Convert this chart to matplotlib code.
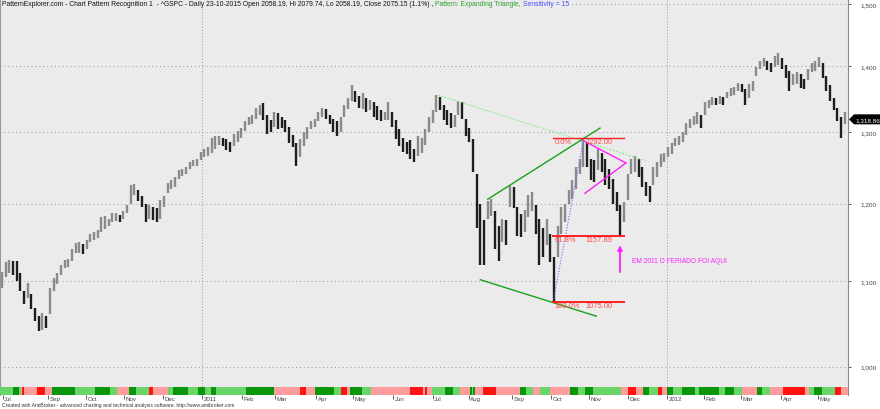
import numpy as np
import matplotlib.pyplot as plt
import matplotlib.transforms as mtransforms
from matplotlib.patches import Polygon
from matplotlib.ticker import NullLocator

plt.rcParams['font.family'] = ['Liberation Sans', 'DejaVu Sans']

# ^GSPC daily, Jul 2010 - May 2012, one sample per two trading days (high, low)
highs = [1112, 1124, 1127, 1126, 1125, 1110, 1088, 1098, 1084, 1068,
         1058, 1062, 1058, 1092, 1104, 1110, 1120, 1127, 1128, 1140,
         1148, 1150, 1147, 1152, 1160, 1163, 1165, 1182, 1184, 1180,
         1188, 1187, 1185, 1190, 1198, 1225, 1227, 1218, 1210, 1200,
         1198, 1196, 1194, 1205, 1210, 1228, 1232, 1236, 1246, 1248,
         1250, 1258, 1260, 1261, 1272, 1276, 1278, 1292, 1294, 1294,
         1292, 1290, 1286, 1298, 1302, 1306, 1316, 1322, 1326, 1336,
         1340, 1343, 1326, 1318, 1330, 1328, 1322, 1318, 1308, 1296,
         1284, 1290, 1300, 1308, 1316, 1320, 1330, 1336, 1334, 1326,
         1320, 1316, 1322, 1340, 1350, 1370, 1362, 1354, 1358, 1350,
         1348, 1344, 1338, 1332, 1330, 1345, 1330, 1318, 1304, 1292,
         1286, 1288, 1276, 1294, 1292, 1305, 1322, 1332, 1356, 1352,
         1340, 1332, 1328, 1326, 1346, 1344, 1320, 1306, 1290, 1240,
         1200, 1178, 1204, 1206, 1190, 1170, 1180, 1178, 1224, 1222,
         1196, 1186, 1192, 1212, 1216, 1198, 1180, 1168, 1180, 1160,
         1130, 1170, 1196, 1200, 1218, 1232, 1250, 1262, 1292, 1286,
         1262, 1260, 1276, 1270, 1262, 1248, 1234, 1216, 1198, 1202,
         1240, 1262, 1266, 1262, 1250, 1230, 1224, 1250, 1258, 1268,
         1270, 1278, 1284, 1292, 1294, 1300, 1314, 1320, 1324, 1330,
         1326, 1344, 1348, 1352, 1350, 1354, 1352, 1360, 1366, 1368,
         1374, 1372, 1364, 1372, 1376, 1398, 1408, 1412, 1408, 1405,
         1416, 1420, 1412, 1402, 1392, 1388, 1390, 1388, 1380, 1396,
         1404, 1408, 1414, 1404, 1384, 1370, 1350, 1336, 1322, 1330]
lows = [1092, 1105, 1110, 1108, 1100, 1088, 1072, 1080, 1066, 1052,
        1040, 1042, 1044, 1060, 1088, 1097, 1108, 1116, 1118, 1126,
        1135, 1136, 1134, 1140, 1150, 1152, 1155, 1162, 1166, 1170,
        1176, 1177, 1176, 1180, 1188, 1200, 1212, 1204, 1196, 1176,
        1180, 1178, 1176, 1180, 1196, 1215, 1220, 1222, 1234, 1238,
        1240, 1248, 1252, 1252, 1260, 1265, 1266, 1270, 1276, 1282,
        1280, 1274, 1272, 1280, 1286, 1292, 1302, 1310, 1312, 1320,
        1326, 1318, 1298, 1300, 1308, 1304, 1306, 1300, 1284, 1278,
        1252, 1264, 1280, 1290, 1304, 1308, 1316, 1322, 1320, 1312,
        1300, 1294, 1300, 1322, 1334, 1346, 1344, 1336, 1334, 1330,
        1332, 1322, 1318, 1316, 1318, 1318, 1308, 1290, 1280, 1272,
        1268, 1262, 1258, 1266, 1270, 1282, 1300, 1314, 1330, 1332,
        1318, 1310, 1306, 1308, 1326, 1320, 1294, 1286, 1244, 1168,
        1120, 1120, 1180, 1184, 1140, 1126, 1150, 1146, 1196, 1194,
        1158, 1156, 1162, 1182, 1190, 1160, 1120, 1130, 1146, 1124,
        1075, 1130, 1160, 1176, 1200, 1206, 1220, 1240, 1250, 1250,
        1232, 1230, 1246, 1244, 1226, 1220, 1200, 1190, 1158, 1176,
        1205, 1240, 1244, 1236, 1222, 1210, 1202, 1226, 1236, 1250,
        1258, 1264, 1268, 1280, 1282, 1286, 1296, 1306, 1310, 1312,
        1306, 1326, 1336, 1340, 1340, 1342, 1340, 1350, 1354, 1356,
        1362, 1360, 1340, 1350, 1362, 1384, 1396, 1400, 1394, 1390,
        1398, 1402, 1396, 1382, 1362, 1370, 1372, 1366, 1364, 1378,
        1390, 1392, 1398, 1382, 1362, 1346, 1332, 1316, 1292, 1312]
last_close = 1318.86

month_pos = [0.5, 25, 45.7, 66.3, 87.5, 108.7, 130.4, 148.4, 170.7, 190.8, 212.5,
             234.2, 253.8, 277.2, 298.4, 319, 340.2, 361.4, 381.5, 401.6, 423.4, 443.5]
month_lbl = ['Jul', 'Sep', 'Oct', 'Nov', 'Dec', '2011', 'Feb', 'Mar', 'Apr', 'May', 'Jun',
             'Jul', 'Aug', 'Sep', 'Oct', 'Nov', 'Dec', '2012', 'Feb', 'Mar', 'Apr', 'May']
year_pos = [108.7, 361.4]
price_ticks = [1000, 1100, 1200, 1300, 1400, 1500]

# pattern points (bar index, price)
tri_upper = ([264, 325], [1206, 1306])
tri_lower = ([260, 323], [1102, 1058])
resist = ([237, 351], [1355, 1258])
swing = ([299.5, 316.3], [1075, 1292])
pennant_up = ([315.8, 339.1], [1288, 1256])
pennant_lo = ([316.8, 339.1], [1214, 1256])
fib_levels = [1292.00, 1157.89, 1075.00]
fib_names = ['0.0%', '61.8%', '100.0%']
fib_span = [299.5, 338]
arrow_x, arrow_from, arrow_to = 335.9, 1108, 1149
note = 'EM 2011 O FERIADO FOI AQUI'

ribbon_codes = ('L D L P R P R P D L D L P D L R P L D L D L D L D P R P D L R P D L P R P R P '
                'L D L P D L D P R P D L P L P D L D L P R P D L R P D L D L D L D L P D L P R '
                'P L D L R P').split()
ribbon_len = [7, 3, 1, 1, 1, 7, 4, 4, 12, 11, 8, 4, 6, 4, 7, 2, 8, 3, 8, 5, 4, 3, 3, 16, 15,
              14, 3, 5, 10, 4, 3, 2, 6, 5, 21, 7, 1, 1, 3, 7, 4, 4, 5, 1, 1, 1, 4, 7, 13, 3,
              4, 4, 5, 11, 4, 4, 4, 15, 4, 4, 4, 3, 5, 2, 3, 3, 5, 7, 2, 11, 3, 5, 4, 8, 3,
              4, 7, 12, 2, 3, 4, 7, 3, 4, 9, 3]
ribbon_col = {'L': '#6ad66a', 'D': '#0a960a', 'P': '#ff9c9c', 'R': '#ff1414'}

W, H = 880, 410
bg = '#ebebeb'
fig = plt.figure(figsize=(W / 100, H / 100), dpi=100)
ax = fig.add_axes([0, 14 / H, 848 / W, 396 / H])
ax.set_facecolor(bg)

x = np.arange(len(highs)) * 2
hi = np.array(highs, float)
lo = np.array(lows, float)
mid = (hi + lo) / 2
up = np.r_[True, mid[1:] >= mid[:-1]]
cols = np.where(up, '#8a8a8a', '#1e1e1e')
ax.vlines(x, lo, hi, colors=cols, lw=1.7, zorder=3)

ax.set_yscale('log')
ax.set_ylim(968.6, 1509.1)
ax.set_xlim(-1.09, 459.8)
ax.yaxis.set_minor_locator(NullLocator())
ax.set_yticks(price_ticks)
ax.set_yticklabels([f'{v:,}' for v in price_ticks])
ax.yaxis.tick_right()
ax.tick_params(axis='y', length=2.2, width=0.6, pad=6.5, labelsize=4.6,
               colors='#444444')
for v in price_ticks:
    ax.axhline(v, color='#9a9a9a', lw=0.7, ls=(0, (1, 3)), zorder=1)
for v in year_pos:
    ax.axvline(v, color='#9a9a9a', lw=0.7, ls=(0, (1, 2)), zorder=1)

ax.set_xticks(month_pos)
ax.set_xticklabels(month_lbl)
ax.tick_params(axis='x', length=3, width=0.6, pad=-2.5, labelsize=4.4,
               colors='#444444')
off = mtransforms.ScaledTranslation(1.5 / 100, 0, fig.dpi_scale_trans)
for t in ax.get_xticklabels():
    t.set_ha('left')
    t.set_transform(t.get_transform() + off)

for s in ['top', 'bottom']:
    ax.spines[s].set_visible(False)
ax.spines['right'].set_color('#888888')
ax.spines['left'].set_color('#999999')
ax.spines['right'].set_linewidth(0.8)

# pattern overlay
ax.plot(*resist, color='#7fef7f', lw=0.8, ls=(0, (1.5, 1.5)), zorder=4)
ax.plot(*tri_upper, color='#1aa01a', lw=1.0, zorder=5)
ax.plot(*tri_lower, color='#1aa01a', lw=1.0, zorder=5)
ax.plot(*swing, color='#6a6aff', lw=0.8, ls=(0, (1, 1.5)), zorder=5)
for lvl, name in zip(fib_levels, fib_names):
    ax.plot(fib_span, [lvl, lvl], color='#ff2020', lw=1.0 if lvl == fib_levels[0] else 1.4,
            zorder=5)
    ax.text(fib_span[0] + 0.8, lvl, name, color='#ff4a4a', fontsize=5.4, ha='left',
            va='top', zorder=6)
    ax.text(fib_span[1] - 6, lvl, f'{lvl:.2f}', color='#ff4a4a', fontsize=5.4,
            ha='right', va='top', zorder=6)
ax.plot(*pennant_up, color='#ff20ff', lw=1.0, zorder=5)
ax.plot(*pennant_lo, color='#ff20ff', lw=1.0, zorder=5)
ax.annotate('', xy=(arrow_x, arrow_to), xytext=(arrow_x, arrow_from),
            arrowprops=dict(arrowstyle='-|>', color='#ff20ff', lw=1.3,
                            mutation_scale=7), zorder=6)
ax.text(arrow_x + 6.5, 1126, note, color='#ff20ff', fontsize=4.8, ha='left',
        va='center', zorder=6)

# trend ribbon
rax = fig.add_axes([0, 14 / H, 848 / W, 8 / H])
start = 0
for c, n in zip(ribbon_codes, ribbon_len):
    rax.axvspan(start, start + n, color=ribbon_col[c], lw=0)
    start += n
rax.set_xlim(0, start)
rax.axis('off')

# last price marker
fig.canvas.draw()
yp = ax.transData.transform((0, last_close))[1]
x0 = ax.transAxes.transform((1, 0))[0]
poly = Polygon([[x0 + 1, yp], [x0 + 6, yp + 5], [W, yp + 5], [W, yp - 5], [x0 + 6, yp - 5]],
               closed=True, facecolor='black', edgecolor='none', transform=None,
               clip_on=False)
fig.patches.append(poly)
fig.text((x0 + 7) / W, yp / H, f'{last_close:,.2f}', color='white', fontsize=4.6,
         ha='left', va='center')

# title
parts = [('PatternExplorer.com - Chart Pattern Recognition 1  - ^GSPC - Daily 23-10-2015 '
          'Open 2058.19, Hi 2079.74, Lo 2058.19, Close 2075.15 (1.1%) , ', '#111111'),
         ('Pattern: Expanding Triangle, ', '#2ca02c'),
         ('Sensitivity = 15', '#4a4aff')]
r = fig.canvas.get_renderer()
px = 2
for s, c in parts:
    t = fig.text(px / W, 1 - 1 / H, s, color=c, fontsize=4.85, ha='left', va='top',
                 bbox=dict(facecolor=bg, edgecolor='none', pad=0.6))
    px += t.get_window_extent(r).width

fig.text(2 / W, 2 / H, 'Created with AmiBroker - advanced charting and technical analysis '
         'software. http://www.amibroker.com', fontsize=3.6, color='#333333',
         ha='left', va='bottom')

fig.savefig('out.png', dpi=100, facecolor='white')
